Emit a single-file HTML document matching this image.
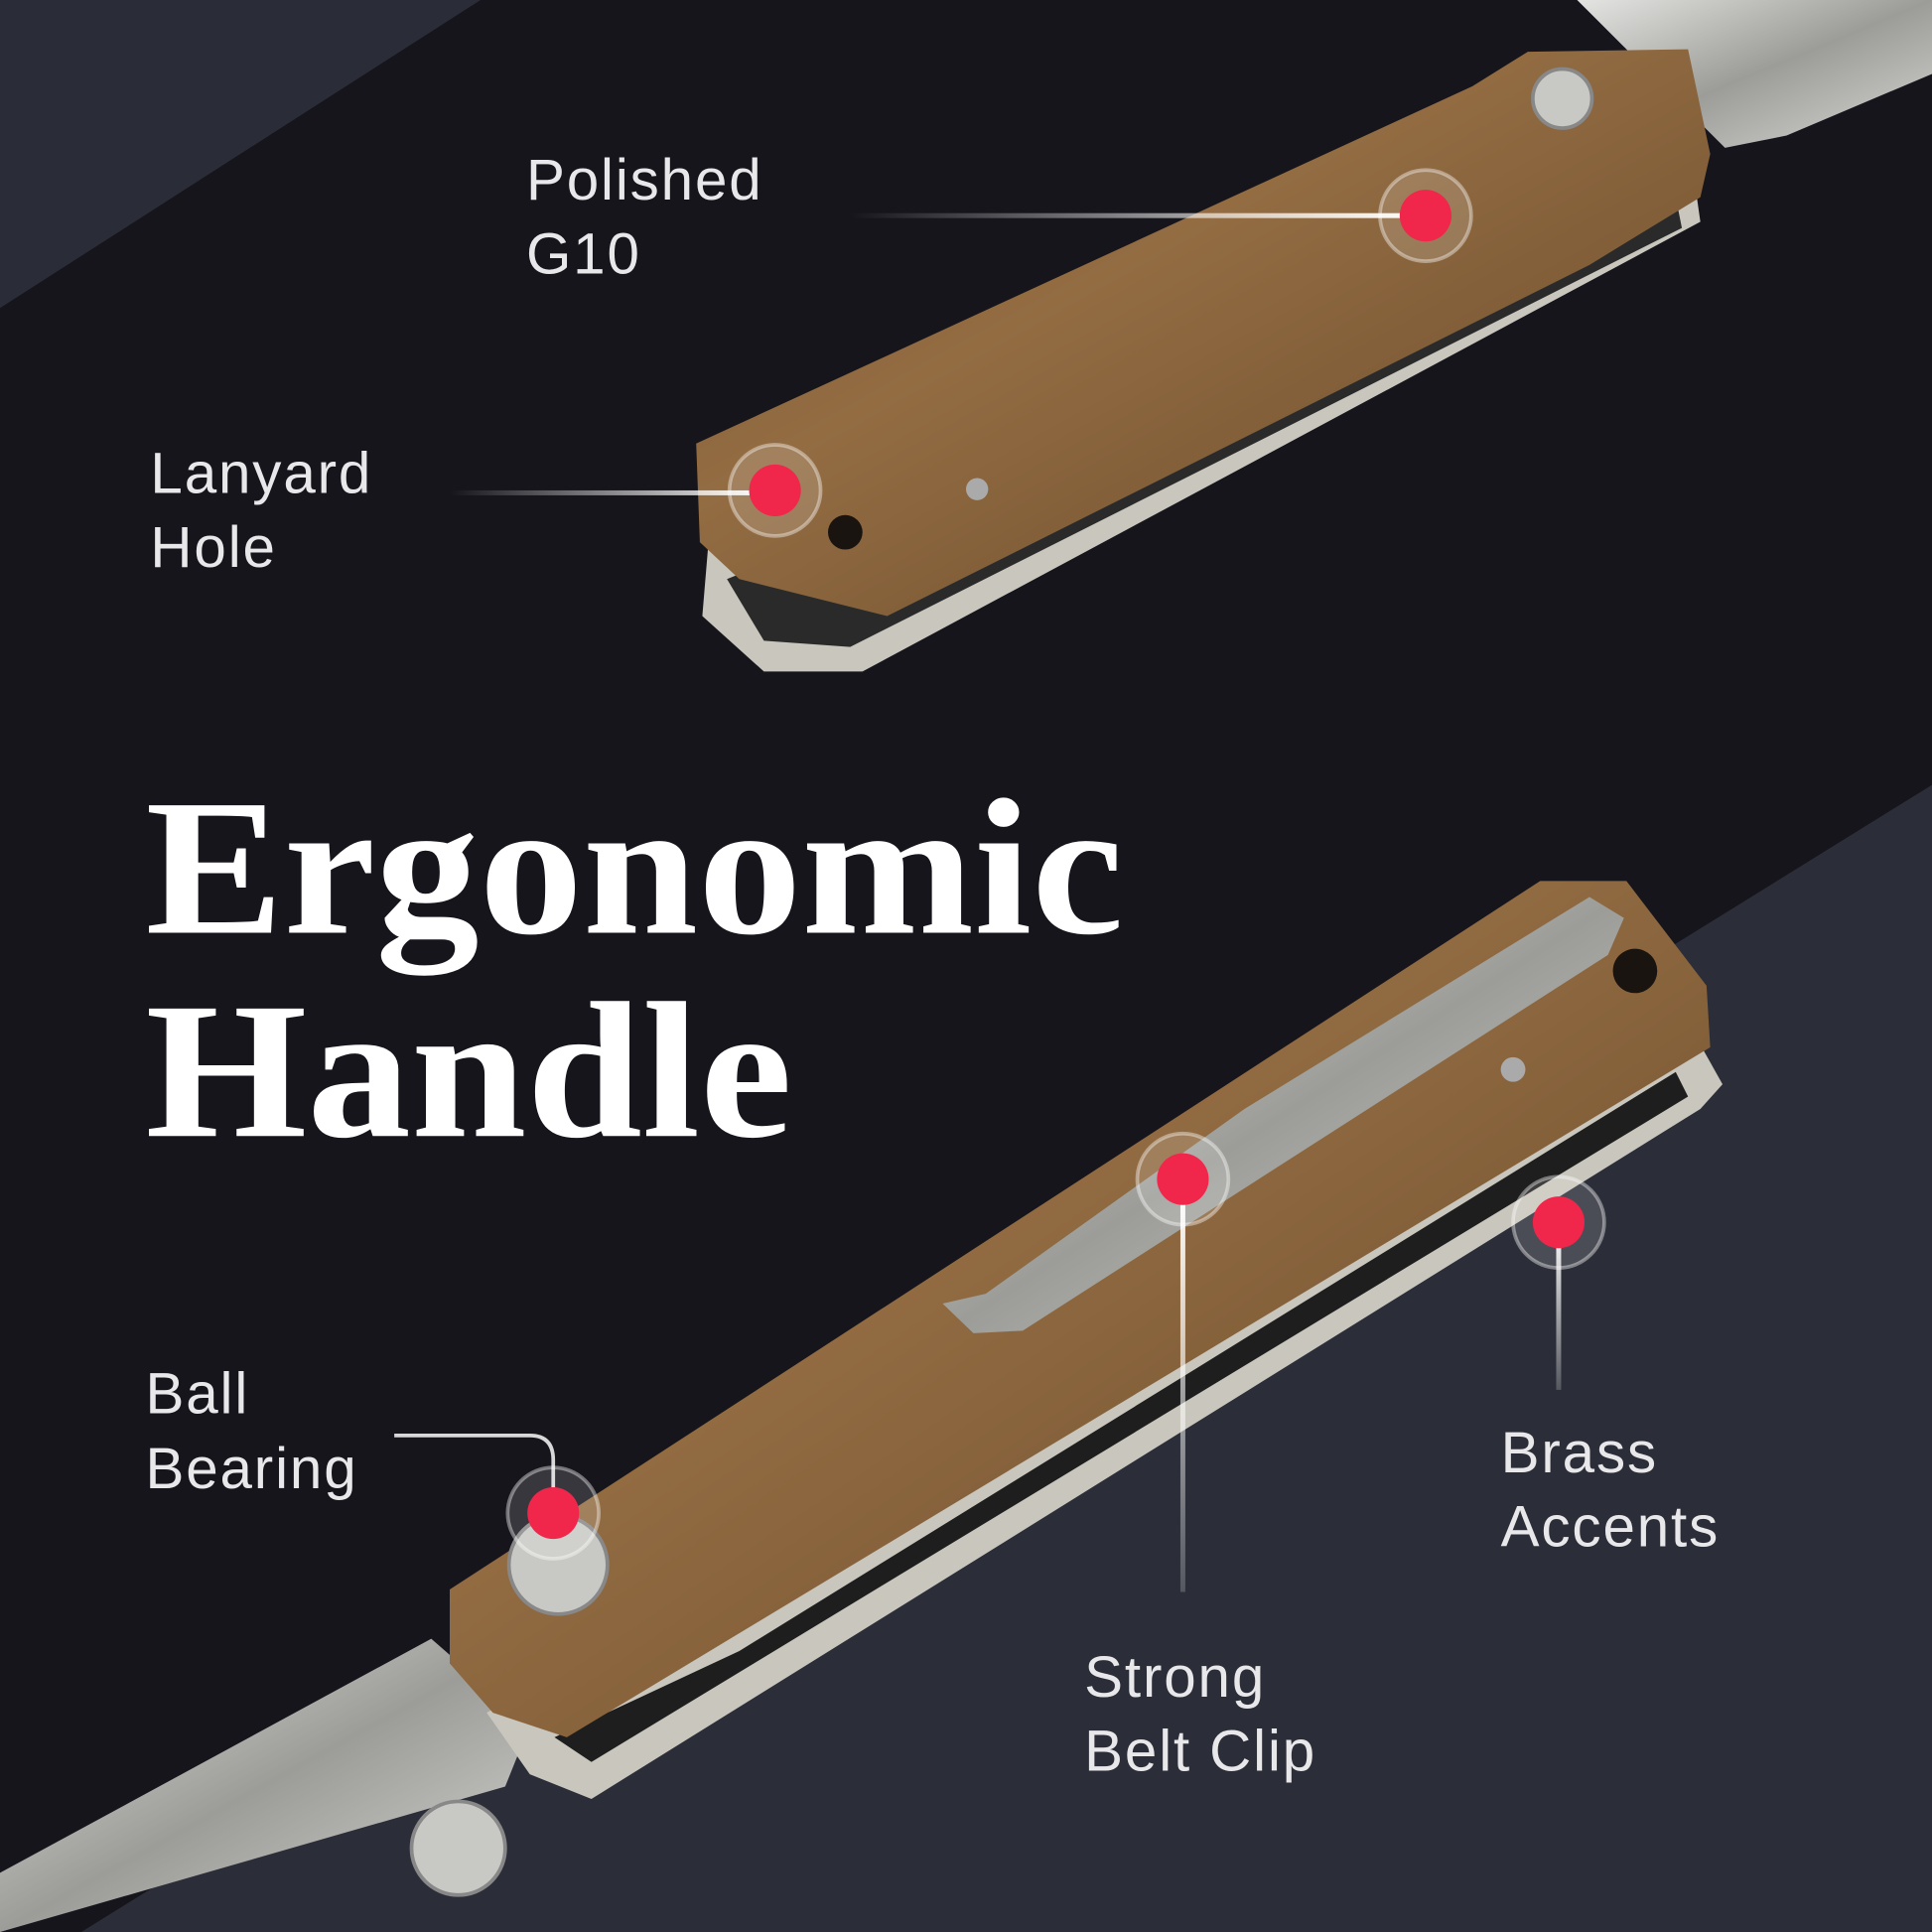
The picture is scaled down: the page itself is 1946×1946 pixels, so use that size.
<!DOCTYPE html>
<html><head><meta charset="utf-8"><style>
html,body{margin:0;padding:0;background:#16151c;}
svg{display:block}
</style></head><body>
<svg width="1946" height="1946" viewBox="0 0 1568 1568" xmlns="http://www.w3.org/2000/svg">
<defs>
<linearGradient id="wood" x1="0" y1="0" x2="1" y2="1">
<stop offset="0" stop-color="#7a5533"/><stop offset="0.4" stop-color="#936c42"/><stop offset="0.7" stop-color="#7c5a36"/><stop offset="1" stop-color="#5e4026"/></linearGradient>
<linearGradient id="steel" x1="0" y1="0" x2="1" y2="1">
<stop offset="0" stop-color="#e4e4e2"/><stop offset="0.5" stop-color="#9c9c98"/><stop offset="1" stop-color="#d8d8d4"/></linearGradient>
<linearGradient id="fadeL" x1="0" y1="0" x2="1" y2="0">
<stop offset="0" stop-color="#fff" stop-opacity="0"/><stop offset="1" stop-color="#fff"/></linearGradient>
<linearGradient id="fadeD" x1="0" y1="0" x2="0" y2="1">
<stop offset="0" stop-color="#fff"/><stop offset="1" stop-color="#fff" stop-opacity="0.2"/></linearGradient>
</defs>
<rect width="1568" height="1568" fill="#16151c"/>
<polygon points="0,0 390,0 0,250" fill="#2a2d38"/>
<polygon points="1568,637 1568,1568 66,1568" fill="#2b2e38"/>

<!-- top knife -->
<polygon points="1280,0 1568,0 1568,60 1450,110 1400,120" fill="url(#steel)"/>
<polygon points="575,440 1370,110 1380,180 700,545 620,545 570,500" fill="#c9c6bd"/>
<polygon points="590,470 1360,160 1365,185 690,525 620,520" fill="#2a2a2a"/>
<polygon points="565,360 1195,70 1240,42 1370,40 1388,125 1380,160 1290,215 720,500 600,470 568,440" fill="url(#wood)"/>
<circle cx="1268" cy="80" r="24" fill="#c8c8c4" stroke="#888" stroke-width="3"/>
<circle cx="686" cy="432" r="14" fill="#1a1410"/>
<circle cx="793" cy="397" r="9" fill="#aaa"/>

<!-- bottom knife -->
<polygon points="0,1520 350,1330 430,1400 410,1450 0,1568" fill="url(#steel)"/>
<polygon points="395,1390 1370,830 1398,880 1380,900 480,1460 430,1440" fill="#c9c6bd"/>
<polygon points="600,1340 1360,870 1370,890 480,1430 450,1410" fill="#1e1e1e"/>
<polygon points="365,1290 1250,715 1320,715 1385,800 1388,850 460,1410 400,1390 365,1350" fill="url(#wood)"/>
<circle cx="1327" cy="788" r="18" fill="#1a1410"/>
<circle cx="1228" cy="868" r="10" fill="#aaa"/>
<polygon points="1290,728 1318,745 1305,775 830,1080 790,1082 765,1058 800,1050 1010,900" fill="url(#steel)"/>
<circle cx="453" cy="1270" r="40" fill="#c8c8c4" stroke="#888" stroke-width="3"/>
<circle cx="372" cy="1500" r="38" fill="#c8c8c4" stroke="#888" stroke-width="3"/>

<!-- connectors -->
<rect x="690" y="173" width="467" height="4" fill="url(#fadeL)"/>
<rect x="365" y="398" width="264" height="4" fill="url(#fadeL)"/>
<path d="M320,1165 L430,1165 Q449,1165 449,1185 L449,1228" fill="none" stroke="#d8d8d8" stroke-width="3"/>
<rect x="958" y="957" width="4" height="335" fill="url(#fadeD)"/>
<rect x="1263" y="992" width="4" height="136" fill="url(#fadeD)"/>

<g fill="#f0264a">
<g><circle cx="1157" cy="175" r="37" fill="#fff" fill-opacity="0.15" stroke="#fff" stroke-opacity="0.4" stroke-width="3"/><circle cx="1157" cy="175" r="21"/></g>
<g><circle cx="629" cy="398" r="37" fill="#fff" fill-opacity="0.15" stroke="#fff" stroke-opacity="0.4" stroke-width="3"/><circle cx="629" cy="398" r="21"/></g>
<g><circle cx="449" cy="1228" r="37" fill="#fff" fill-opacity="0.15" stroke="#fff" stroke-opacity="0.4" stroke-width="3"/><circle cx="449" cy="1228" r="21"/></g>
<g><circle cx="960" cy="957" r="37" fill="#fff" fill-opacity="0.15" stroke="#fff" stroke-opacity="0.4" stroke-width="3"/><circle cx="960" cy="957" r="21"/></g>
<g><circle cx="1265" cy="992" r="37" fill="#fff" fill-opacity="0.15" stroke="#fff" stroke-opacity="0.4" stroke-width="3"/><circle cx="1265" cy="992" r="21"/></g>
</g>

<g font-family="Liberation Sans, sans-serif" font-size="47" fill="#e8e8ea" letter-spacing="1.5">
<text x="427" y="162">Polished</text><text x="427" y="222">G10</text>
<text x="122" y="400">Lanyard</text><text x="122" y="460">Hole</text>
<text x="118" y="1147">Ball</text><text x="118" y="1208">Bearing</text>
<text x="1218" y="1195">Brass</text><text x="1218" y="1255">Accents</text>
<text x="880" y="1377">Strong</text><text x="880" y="1437">Belt Clip</text>
</g>
<g font-family="Liberation Serif, serif" font-weight="bold" font-size="158" fill="#ffffff">
<text x="118" y="757" textLength="794" lengthAdjust="spacingAndGlyphs">Ergonomic</text><text x="118" y="922" textLength="525" lengthAdjust="spacingAndGlyphs">Handle</text>
</g>
</svg>
</body></html>
